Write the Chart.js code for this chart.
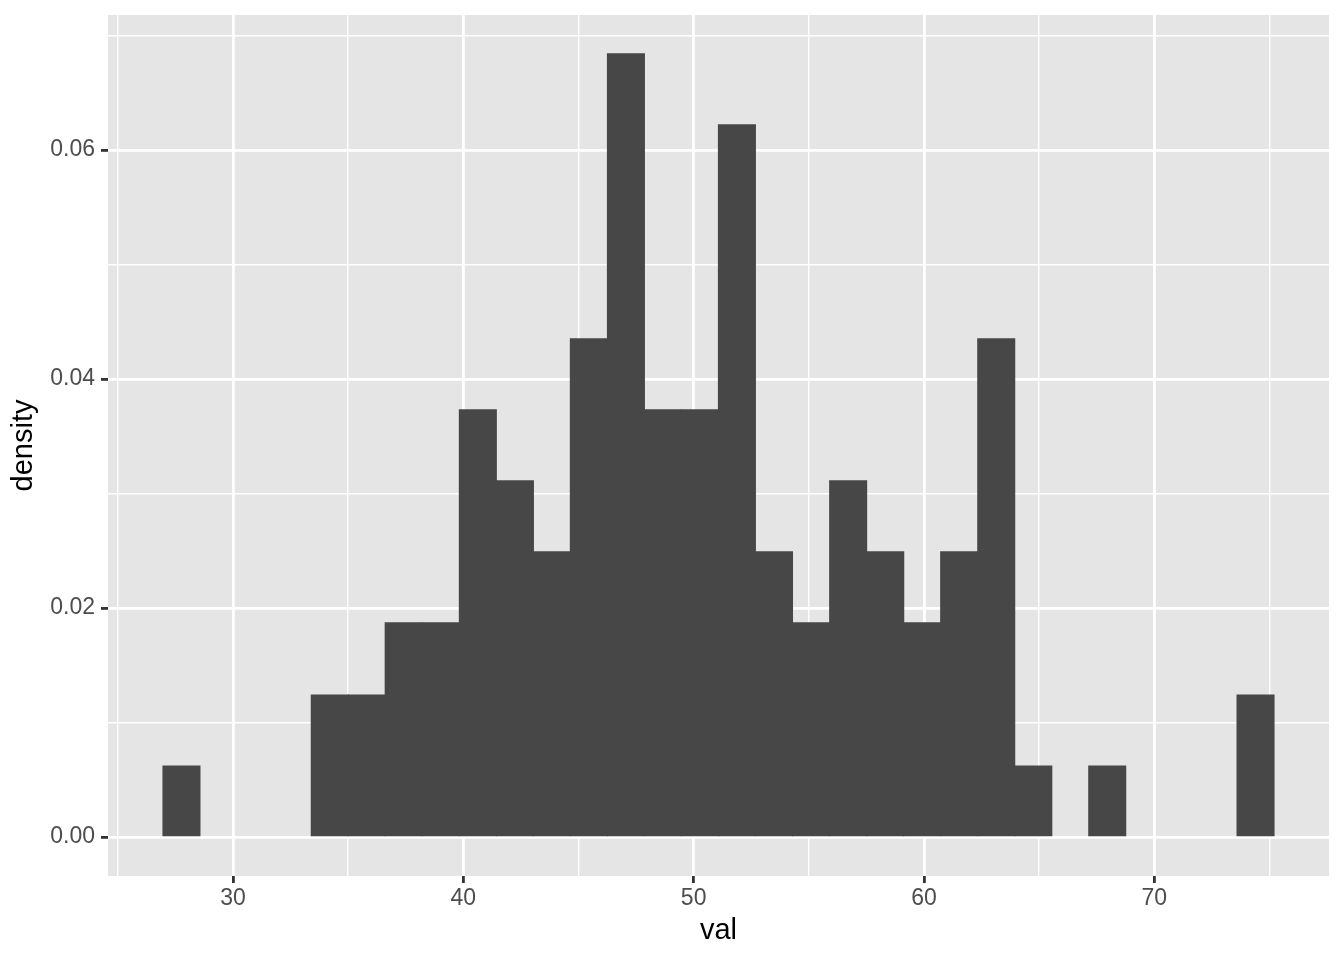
<!DOCTYPE html>
<html>
<head>
<meta charset="utf-8">
<script src="https://cdn.jsdelivr.net/npm/chart.js@4"></script>
<style>
  html, body { margin: 0; padding: 0; background: #fff; }
  #wrap { width: 1344px; height: 960px; }
</style>
</head>
<body>
<div id="wrap"><canvas id="hist" width="1344" height="960"></canvas></div>
<script>
  // bin centres (binwidth ~1.608) and densities
  const binCenters = [27.76, 29.37, 30.98, 32.59, 34.20, 35.80, 37.41, 39.02, 40.63, 42.24,
                      43.84, 45.45, 47.06, 48.67, 50.28, 51.88, 53.49, 55.10, 56.71, 58.32,
                      59.92, 61.53, 63.14, 64.75, 66.36, 67.96, 69.57, 71.18, 72.79, 74.40];
  const densities = [0.0062, 0, 0, 0, 0.0124, 0.0124, 0.0187, 0.0187, 0.0373, 0.0311,
                     0.0249, 0.0435, 0.0684, 0.0373, 0.0373, 0.0622, 0.0249, 0.0187, 0.0311, 0.0249,
                     0.0187, 0.0249, 0.0435, 0.0062, 0, 0.0062, 0, 0, 0, 0.0124];
  const xTitle = "val";
  const yTitle = "density";

  (function () {
    "use strict";

    const panelBg = {
      id: "panelBg",
      beforeDraw(chart) {
        const { ctx, chartArea: a } = chart;
        ctx.save();
        ctx.fillStyle = "#fff";
        ctx.fillRect(0, 0, chart.width, chart.height);
        ctx.fillStyle = "#E5E5E5";
        ctx.fillRect(a.left, a.top, a.right - a.left, a.bottom - a.top);
        ctx.restore();
      }
    };

    const isMajorX = v => Math.abs(v % 10) < 1e-6;
    const isMajorY = v => Math.round(v * 100) % 2 === 0;
    const emptyBin = c => !c.raw || c.raw.y === 0;

    Chart.defaults.font.family = "'Liberation Sans', Arial, sans-serif";

    const points = binCenters.map((x, i) => ({ x, y: densities[i] }));

    new Chart(document.getElementById("hist"), {
      type: "bar",
      data: {
        datasets: [{
          data: points,
          backgroundColor: c => emptyBin(c) ? "rgba(0,0,0,0)" : "#474747",
          borderWidth: 0,
          inflateAmount: c => emptyBin(c) ? 0 : 0.6,
          barPercentage: 1,
          categoryPercentage: 1
        }]
      },
      options: {
        responsive: false,
        animation: false,
        layout: { padding: { top: 15, right: 15, left: 0, bottom: 0 } },
        plugins: { legend: { display: false }, tooltip: { enabled: false } },
        scales: {
          x: {
            type: "linear",
            offset: false,
            min: 24.57,
            max: 77.59,
            afterFit(s) { s.height = 84; },
            border: { display: false },
            grid: {
              offset: false,
              color: "#fff",
              lineWidth: c => isMajorX(c.tick.value) ? 2.8 : 1.4,
              tickLength: 7,
              tickWidth: 2.8,
              tickColor: c => isMajorX(c.tick.value) ? "#333333" : "rgba(0,0,0,0)"
            },
            ticks: {
              stepSize: 5,
              includeBounds: false,
              autoSkip: false,
              maxRotation: 0,
              padding: 2,
              color: "#4D4D4D",
              font: c => ({ size: c.tick && isMajorX(c.tick.value) ? 23 : 1 }),
              callback: v => isMajorX(v) ? String(v) : ""
            },
            title: {
              display: true,
              text: xTitle,
              color: "#000",
              font: { size: 29 },
              padding: { top: 0, bottom: 12 }
            }
          },
          y: {
            min: -0.003406,
            max: 0.07179,
            afterFit(s) { s.width = 108; },
            border: { display: false },
            grid: {
              color: "#fff",
              lineWidth: c => isMajorY(c.tick.value) ? 2.8 : 1.4,
              tickLength: 7,
              tickWidth: 2.8,
              tickColor: c => isMajorY(c.tick.value) ? "#333333" : "rgba(0,0,0,0)"
            },
            ticks: {
              stepSize: 0.01,
              includeBounds: false,
              autoSkip: false,
              padding: 6,
              color: "#4D4D4D",
              font: c => ({ size: c.tick && isMajorY(c.tick.value) ? 23 : 1 }),
              callback: v => isMajorY(v) ? v.toFixed(2) : ""
            },
            title: {
              display: true,
              text: yTitle,
              color: "#000",
              font: { size: 29 },
              padding: { top: 7, bottom: 0 }
            }
          }
        }
      },
      plugins: [panelBg]
    });
  })();
</script>
</body>
</html>
